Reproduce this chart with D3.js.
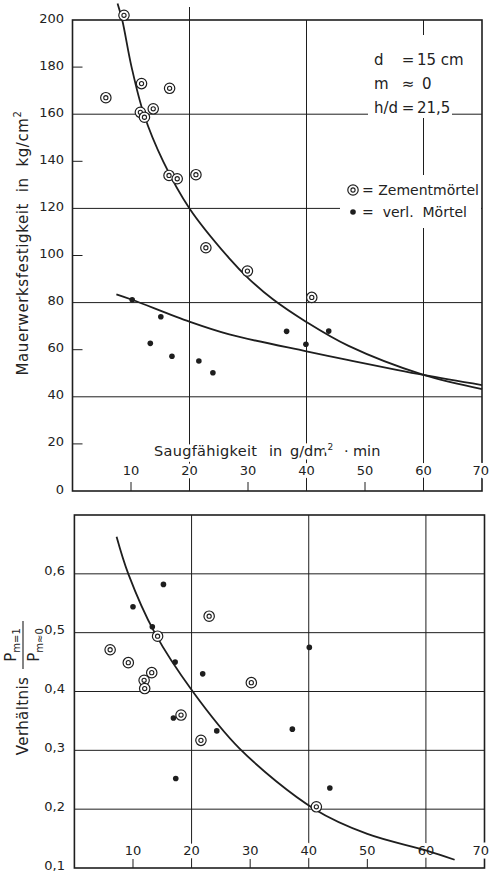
<!DOCTYPE html>
<html>
<head>
<meta charset="utf-8">
<script src="https://cdn.jsdelivr.net/npm/d3@7"></script>
<style>
  body { margin: 0; background: #fff; }
  text { font-family: "DejaVu Sans", sans-serif; fill: #222; }
  .halo { stroke: #fff; stroke-width: 7; stroke-linejoin: round; paint-order: stroke; }
</style>
</head>
<body>
<div id="chart"></div>
<script>
const WIDTH = 490;
const HEIGHT = 874;

// upper panel: Mauerwerksfestigkeit vs Saugfähigkeit
const zementStrength = [[8.8,202],[5.7,167],[11.8,173],[16.6,171],[11.6,160.8],[12.3,158.7],[13.8,162.3],
  [16.5,134],[17.9,132.6],[21.1,134.3],[22.8,103.3],[29.9,93.4],[40.9,82.2]];
const mortarStrength = [[10.2,81.2],[15.1,74],[13.3,62.7],[17.0,57.2],[21.6,55.2],[24.0,50.2],
  [36.6,67.8],[39.9,62.3],[43.8,67.9]];
const zementCurve = [[7.7,207],[8.5,200],[10.1,180],[12.2,160],[15.5,140],[20,120],[26.8,98.8],
  [30.2,90],[34.2,81.5],[39.9,71.9],[47.2,61.6],[60,49.3],[70,43.3]];
const mortarCurve = [[7.5,83.5],[10.2,81.2],[20,71.9],[26.8,66.5],[40,59.3],[47.2,55.6],[60,49.3],[70,45]];

// lower panel: Verhältnis P(m=1)/P(m≈0)
const zementRatio = [[6.1,0.471],[9.2,0.449],[14.2,0.494],[23.0,0.528],[13.2,0.432],[11.9,0.419],
  [12.0,0.405],[18.2,0.36],[21.6,0.317],[30.2,0.415],[41.3,0.204]];
const mortarRatio = [[10.0,0.544],[15.2,0.582],[13.3,0.51],[17.2,0.45],[21.9,0.43],[16.9,0.355],
  [17.3,0.252],[24.3,0.333],[37.2,0.336],[43.6,0.236],[40.1,0.475]];
const ratioCurve = [[7.2,0.663],[9.2,0.6],[13.7,0.5],[20.2,0.4],[28.2,0.303],[41,0.2],[50,0.158],[60,0.13],[64.9,0.114]];

// ticks
const xTickLabels = [10, 20, 30, 40, 50, 60, 70];
const xGrid = [20, 40, 60];
const xMinor = [10, 30, 50];
const strengthLabels = [0, 20, 40, 60, 80, 100, 120, 140, 160, 180, 200];
const strengthGrid = [40, 80, 120, 160];
const strengthMinor = [20, 60, 100, 140, 180];
const ratioLabels = ["0,1", "0,2", "0,3", "0,4", "0,5", "0,6"];
const ratioGrid = [0.2, 0.3, 0.4, 0.5, 0.6];

const svg = d3.select("#chart").append("svg")
  .attr("width", WIDTH)
  .attr("height", HEIGHT);

const ink = "#1e1e1e";

function doubleCircles(g, data, x, y) {
  let m = g.append("g").selectAll("g").data(data).enter().append("g")
    .attr("transform", d => `translate(${x(d[0])},${y(d[1])})`);
  m.append("circle").attr("r", 5.2).attr("fill", "#fff").attr("stroke", ink).attr("stroke-width", 1.2);
  m.append("circle").attr("r", 2.1).attr("fill", "none").attr("stroke", ink).attr("stroke-width", 1.1);
}
function dots(g, data, x, y) {
  g.append("g").selectAll("circle").data(data).enter().append("circle")
    .attr("cx", d => x(d[0])).attr("cy", d => y(d[1]))
    .attr("r", 2.8).attr("fill", ink);
}
// keep the last tick label ("70") inside the page edge
function tickX(scale, d) { return d === 70 ? WIDTH - 1 : scale(d); }
function tickAnchor(d) { return d === 70 ? "end" : "middle"; }

// ---------- upper panel ----------
const xTop = d3.scaleLinear().domain([0, 70]).range([72.5, 482]);
const yTop = d3.scaleLinear().domain([0, 200]).range([491, 20]);
const upper = svg.append("g");

upper.append("g").selectAll("line").data(xGrid).enter().append("line")
  .attr("x1", d => xTop(d)).attr("x2", d => xTop(d))
  .attr("y1", d => d === 20 ? 7 : yTop(200)).attr("y2", yTop(0))
  .attr("stroke", ink).attr("stroke-width", 1);
upper.append("g").selectAll("line").data(strengthGrid).enter().append("line")
  .attr("x1", xTop(0)).attr("x2", xTop(70))
  .attr("y1", d => yTop(d)).attr("y2", d => yTop(d))
  .attr("stroke", ink).attr("stroke-width", 1);
upper.append("g").selectAll("line").data(strengthMinor).enter().append("line")
  .attr("x1", xTop(0)).attr("x2", xTop(0) + 10)
  .attr("y1", d => yTop(d)).attr("y2", d => yTop(d))
  .attr("stroke", ink).attr("stroke-width", 1);
upper.append("g").selectAll("line").data(xMinor).enter().append("line")
  .attr("x1", d => xTop(d)).attr("x2", d => xTop(d))
  .attr("y1", yTop(0)).attr("y2", yTop(0) - 9)
  .attr("stroke", ink).attr("stroke-width", 1);

// paper cut-outs behind annotation and legend
upper.append("rect").attr("x", 368).attr("y", 35).attr("width", 84).attr("height", 83).attr("fill", "#fff");
upper.append("rect").attr("x", 340).attr("y", 175).attr("width", 141).attr("height", 53).attr("fill", "#fff");

upper.append("rect")
  .attr("x", xTop(0)).attr("y", yTop(200))
  .attr("width", xTop(70) - xTop(0)).attr("height", yTop(0) - yTop(200))
  .attr("fill", "none").attr("stroke", ink).attr("stroke-width", 1.6);

upper.append("g").selectAll("text").data(strengthLabels).enter().append("text")
  .attr("x", 64).attr("y", d => yTop(d) - 2)
  .attr("dy", "0.35em").attr("text-anchor", "end")
  .attr("font-size", 13).text(d => d);

upper.append("g").selectAll("text").data(xTickLabels).enter().append("text")
  .attr("class", "halo")
  .attr("x", d => tickX(xTop, d)).attr("y", 470).attr("dy", "0.35em")
  .attr("text-anchor", tickAnchor).attr("font-size", 13).text(d => d);

let xt = upper.append("text").attr("class", "halo")
  .attr("y", 456).attr("font-size", 14.5);
xt.append("tspan").attr("x", 154).attr("letter-spacing", 0.3).text("Saugfähigkeit");
xt.append("tspan").attr("x", 269).text("in");
xt.append("tspan").attr("x", 290).text("g/dm");
xt.append("tspan").attr("font-size", 9).attr("dy", -6).text("2");
xt.append("tspan").attr("x", 344).attr("dy", 6).text("·");
xt.append("tspan").attr("x", 353).text("min");

let yt = upper.append("text")
  .attr("transform", "translate(28,243) rotate(-90)")
  .attr("text-anchor", "middle").attr("font-size", 15)
  .attr("letter-spacing", 0.6)
  .style("white-space", "pre");
yt.append("tspan").text("Mauerwerksfestigkeit  in  kg/cm");
yt.append("tspan").attr("font-size", 10).attr("dy", -7).text("2");

const line = d3.line().curve(d3.curveCatmullRom.alpha(0.5));
upper.append("path")
  .attr("d", line(zementCurve.map(d => [xTop(d[0]), yTop(d[1])])))
  .attr("fill", "none").attr("stroke", ink).attr("stroke-width", 1.8);
upper.append("path")
  .attr("d", line(mortarCurve.map(d => [xTop(d[0]), yTop(d[1])])))
  .attr("fill", "none").attr("stroke", ink).attr("stroke-width", 1.8);

doubleCircles(upper, zementStrength, xTop, yTop);
dots(upper, mortarStrength, xTop, yTop);

// annotation
const notes = [["d", "=", "15 cm", 60, 417], ["m", "≈", "0", 84, 422], ["h/d", "=", "21,5", 108, 417]];
notes.forEach(n => {
  upper.append("text").attr("x", 374).attr("y", n[3]).attr("dy", "0.35em").attr("font-size", 15).text(n[0]);
  upper.append("text").attr("x", 408).attr("y", n[3]).attr("dy", "0.35em").attr("text-anchor", "middle").attr("font-size", 15).text(n[1]);
  upper.append("text").attr("x", n[4]).attr("y", n[3]).attr("dy", "0.35em").attr("font-size", 15).text(n[2]);
});

// legend
doubleCircles(upper, [[0, 0]], () => 353, () => 190);
dots(upper, [[0, 0]], () => 353, () => 212);
upper.append("text").attr("x", 362).attr("y", 190).attr("dy", "0.35em").attr("font-size", 14)
  .style("white-space", "pre").text("= Zementmörtel");
upper.append("text").attr("x", 362).attr("y", 212).attr("dy", "0.35em").attr("font-size", 14)
  .style("white-space", "pre").text("=  verl.  Mörtel");

// ---------- lower panel ----------
const xBot = d3.scaleLinear().domain([0, 70]).range([74.4, 484.5]);
const yBot = d3.scaleLinear().domain([0.1, 0.7]).range([868, 515]);
const lower = svg.append("g");

lower.append("g").selectAll("line").data(xGrid).enter().append("line")
  .attr("x1", d => xBot(d)).attr("x2", d => xBot(d))
  .attr("y1", yBot(0.7)).attr("y2", yBot(0.1))
  .attr("stroke", ink).attr("stroke-width", 1);
lower.append("g").selectAll("line").data(ratioGrid).enter().append("line")
  .attr("x1", xBot(0)).attr("x2", xBot(70))
  .attr("y1", d => yBot(d)).attr("y2", d => yBot(d))
  .attr("stroke", ink).attr("stroke-width", 1);
lower.append("g").selectAll("line").data(xMinor).enter().append("line")
  .attr("x1", d => xBot(d)).attr("x2", d => xBot(d))
  .attr("y1", yBot(0.1)).attr("y2", yBot(0.1) - 9)
  .attr("stroke", ink).attr("stroke-width", 1);
lower.append("rect")
  .attr("x", xBot(0)).attr("y", yBot(0.7))
  .attr("width", xBot(70) - xBot(0)).attr("height", yBot(0.1) - yBot(0.7))
  .attr("fill", "none").attr("stroke", ink).attr("stroke-width", 1.6);

lower.append("g").selectAll("text").data(ratioLabels).enter().append("text")
  .attr("x", 65).attr("y", (d, i) => yBot(0.1 + i * 0.1) - 3)
  .attr("dy", "0.35em").attr("text-anchor", "end")
  .attr("font-size", 13).text(d => d);

lower.append("g").selectAll("text").data(xTickLabels).enter().append("text")
  .attr("class", "halo")
  .attr("x", d => tickX(xBot, d)).attr("y", 850).attr("dy", "0.35em")
  .attr("text-anchor", tickAnchor).attr("font-size", 13).text(d => d);

lower.append("text")
  .attr("transform", "translate(28,716) rotate(-90)")
  .attr("text-anchor", "middle").attr("font-size", 15).attr("letter-spacing", 0.4).text("Verhältnis");
lower.append("line").attr("x1", 23).attr("x2", 23).attr("y1", 621).attr("y2", 669)
  .attr("stroke", ink).attr("stroke-width", 1.1);
function pLabel(cx, sub) {
  let t = lower.append("text")
    .attr("transform", `translate(${cx},645) rotate(-90)`)
    .attr("text-anchor", "middle").attr("font-size", 15);
  t.append("tspan").text("P");
  t.append("tspan").attr("font-size", 10).attr("dy", 4).text(sub);
}
pLabel(16, "m=1");
pLabel(39, "m≈0");

lower.append("path")
  .attr("d", line(ratioCurve.map(d => [xBot(d[0]), yBot(d[1])])))
  .attr("fill", "none").attr("stroke", ink).attr("stroke-width", 1.8);

doubleCircles(lower, zementRatio, xBot, yBot);
dots(lower, mortarRatio, xBot, yBot);
</script>
</body>
</html>
